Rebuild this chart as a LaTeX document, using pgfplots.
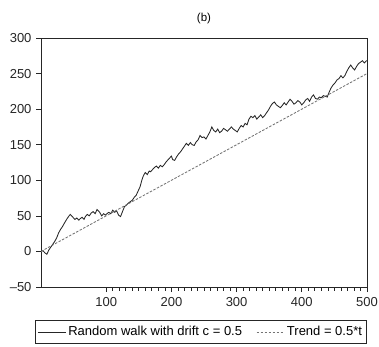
\documentclass[border=0pt]{standalone}
\usepackage{fontspec}
\setmainfont{Liberation Sans}
\usepackage{pgfplots}
\pgfplotsset{compat=1.18}
\usetikzlibrary{calc}
\begin{document}
\begin{tikzpicture}
\begin{axis}[
  scale only axis,
  width=326pt, height=249pt,
  xmin=0, xmax=500, ymin=-50, ymax=300,
  xtick={100,200,300,400,500},
  minor x tick num=9,
  ytick={-50,0,50,100,150,200,250,300},
  yticklabels={\textendash50,0,50,100,150,200,250,300},
  tick pos=left,
  tick align=outside,
  major tick length=5pt,
  minor tick length=3.5pt,
  axis line style={line width=0.9pt, black!85},
  every tick/.style={black!85, line width=0.7pt},
  tick label style={font=\fontsize{13}{14}\selectfont, black!85},
  /pgf/number format/assume math mode=true,
  xticklabel style={yshift=-2pt},
  yticklabel style={xshift=-1pt},
  title={(b)},
  title style={font=\fontsize{11.5}{13}\selectfont, yshift=5pt},
  legend columns=2,
  legend style={at={(axis description cs:0.49,-0.133)}, anchor=north,
    draw=black!85, line width=0.8pt, font=\fontsize{13}{15}\selectfont,
    inner xsep=2pt, inner ysep=4pt,
    /tikz/every even column/.append style={column sep=12pt}},
  legend cell align=left,
  legend image code/.code={\draw[#1] (0pt,0pt) -- (28pt,0pt);},
]
\addplot[black!85, line width=0.85pt] coordinates {
(0,0)(3,1)(6,-2)(9,-4)(12,2)(15,6)(18,10)(21,14)(24,19)(27,26)(30,31)(33,35)(36,40)(40,46)(43,50)(45,52)(48,49)(50,47)(52,45)(55,47)(58,44)(60,46)(63,48)(66,45)(68,49)(71,52)(74,50)(77,54)(80,56)(83,53)(86,59)(88,57)(90,55)(93,50)(96,53)(99,51)(101,53)(104,55)(107,53)(110,58)(113,55)(116,57)(119,51)(122,49)(125,56)(128,63)(131,65)(134,68)(137,70)(140,72)(143,76)(146,79)(149,85)(152,91)(154,98)(156,104)(158,108)(160,111)(163,108)(166,113)(168,112)(171,115)(174,118)(177,120)(180,117)(183,121)(186,119)(189,122)(192,126)(195,129)(198,132)(200,134)(202,129)(205,128)(208,133)(211,137)(214,140)(217,144)(220,148)(223,152)(226,149)(229,153)(232,150)(235,149)(238,154)(241,157)(244,163)(247,160)(250,161)(253,158)(256,163)(259,168)(262,175)(265,170)(268,168)(271,172)(274,167)(277,169)(280,173)(283,171)(286,169)(289,172)(292,175)(295,172)(298,170)(301,168)(304,173)(307,177)(310,175)(313,180)(316,178)(319,186)(322,190)(325,188)(328,191)(331,186)(334,189)(337,192)(340,188)(343,191)(346,195)(349,199)(352,204)(355,208)(358,210)(361,206)(364,204)(367,202)(370,205)(373,209)(376,206)(379,210)(382,214)(385,211)(388,207)(391,209)(394,212)(397,210)(400,206)(403,209)(406,213)(409,215)(412,211)(415,217)(418,220)(421,215)(424,214)(427,217)(430,216)(433,219)(436,218)(439,217)(442,224)(445,230)(448,234)(451,237)(454,241)(457,243)(460,247)(463,244)(466,247)(469,253)(472,258)(475,262)(478,258)(481,255)(484,260)(487,264)(490,266)(493,268)(496,265)(499,268)(500,268)
};
\addlegendentry{Random walk with drift c = 0.5}
\addplot[black!55, line width=0.85pt, dash pattern=on 2.5pt off 1.5pt] coordinates {(0,0)(500,250)};
\addlegendentry{Trend = 0.5*t}
\end{axis}
\pgfresetboundingbox
\path ($(current axis.south west)+(-41pt,-59pt)$) rectangle ($(current axis.north east)+(12pt,38pt)$);
\end{tikzpicture}
\end{document}
